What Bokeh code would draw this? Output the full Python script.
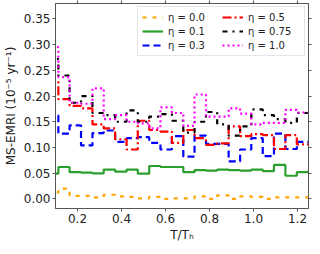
import numpy as np
from bokeh.plotting import figure
from bokeh.models import (Range1d, LinearAxis, FixedTicker, NumeralTickFormatter,
                          CustomJSTickFormatter, Legend, LegendItem)
from bokeh.embed import file_html
from bokeh.resources import INLINE

# bin edges in T/T_h (23 bins)
t_edges = [0.061, 0.113, 0.164, 0.216, 0.268, 0.319, 0.371, 0.423, 0.474, 0.526,
           0.577, 0.629, 0.681, 0.732, 0.784, 0.835, 0.887, 0.939, 0.990, 1.042,
           1.093, 1.145, 1.197, 1.248]

eta_labels = ["η = 0.0", "η = 0.1", "η = 0.3", "η = 0.5", "η = 0.75", "η = 1.0"]

rate_eta_00 = [0.012, 0.020, 0.006, 0.006, 0.003, 0.008, 0.005, 0.004, 0.001, 0.004,
               0.000, 0.001, 0.001, 0.005, 0.000, 0.007, 0.000, 0.005, 0.004, 0.000,
               0.003, 0.003, 0.003]
rate_eta_01 = [0.049, 0.062, 0.052, 0.051, 0.0495, 0.057, 0.053, 0.057, 0.049, 0.064,
               0.062, 0.062, 0.052, 0.056, 0.055, 0.057, 0.056, 0.055, 0.057, 0.054,
               0.066, 0.045, 0.052]
rate_eta_03 = [0.162, 0.127, 0.143, 0.104, 0.128, 0.133, 0.111, 0.118, 0.120, 0.109,
               0.096, 0.122, 0.082, 0.123, 0.107, 0.107, 0.073, 0.096, 0.118, 0.083,
               0.127, 0.097, 0.111]
rate_eta_05 = [0.230, 0.194, 0.181, 0.176, 0.145, 0.137, 0.116, 0.096, 0.152, 0.134,
               0.131, 0.109, 0.134, 0.118, 0.105, 0.108, 0.141, 0.122, 0.126, 0.124,
               0.097, 0.124, 0.106]
rate_eta_075 = [0.272, 0.240, 0.187, 0.200, 0.167, 0.163, 0.150, 0.172, 0.150, 0.160,
                0.165, 0.152, 0.129, 0.150, 0.169, 0.145, 0.123, 0.141, 0.174, 0.163,
                0.155, 0.148, 0.167]
rate_eta_10 = [0.295, 0.237, 0.187, 0.185, 0.215, 0.155, 0.163, 0.150, 0.147, 0.137,
               0.178, 0.167, 0.142, 0.203, 0.160, 0.160, 0.176, 0.166, 0.145, 0.148,
               0.148, 0.173, 0.168]

x_ticks = [0.2, 0.4, 0.6, 0.8, 1.0, 1.2]
y_ticks = [0.0, 0.05, 0.10, 0.15, 0.20, 0.25, 0.30, 0.35]

series = [rate_eta_00, rate_eta_01, rate_eta_03, rate_eta_05, rate_eta_075, rate_eta_10]
colors = ["#FFA500", "#2ca02c", "#0000FF", "#FF0000", "#000000", "#FF00FF"]
dashes = ["4 6", "solid", "7 4", "9 3 2 3", "5 5 2 5", "2 3"]

FRAME = "#555555"
TXT = "#222222"
FONT = "DejaVu Sans"

p = figure(frame_width=253, frame_height=205, output_backend="svg", toolbar_location=None,
           x_range=Range1d(0.1, 1.25), y_range=Range1d(-0.0187, 0.380),
           min_border_left=4, min_border_right=4, min_border_top=3, min_border_bottom=4,
           background_fill_color="white", border_fill_color="white")
p.xgrid.visible = False
p.ygrid.visible = False
p.outline_line_color = FRAME
p.outline_line_width = 1

for ax in p.xaxis + p.yaxis:
    ax.axis_line_color = FRAME
    ax.major_tick_line_color = FRAME
    ax.minor_tick_line_color = None
    ax.major_tick_in = 0
    ax.major_tick_out = 3
    ax.major_label_text_font = FONT
    ax.major_label_text_font_size = "12px"
    ax.major_label_text_color = TXT
    ax.axis_label_text_font = FONT
    ax.axis_label_text_font_size = "12px"
    ax.axis_label_text_font_style = "normal"
    ax.axis_label_text_color = TXT

p.xaxis.ticker = FixedTicker(ticks=x_ticks)
p.xaxis.formatter = NumeralTickFormatter(format="0.0")
p.xaxis.major_label_standoff = 2
p.xaxis.axis_label = "T/Tₕ"
p.xaxis.axis_label_standoff = 2

p.yaxis.ticker = FixedTicker(ticks=y_ticks)
p.yaxis.formatter = NumeralTickFormatter(format="0.00")
p.yaxis.major_label_standoff = 2
p.yaxis.axis_label = "MS-EMRI (10⁻⁵ yr⁻¹)"
p.yaxis.axis_label_standoff = 3

empty = CustomJSTickFormatter(code="return ''")
top = LinearAxis(ticker=FixedTicker(ticks=x_ticks), formatter=empty,
                 axis_line_color=FRAME, major_tick_line_color=FRAME, minor_tick_line_color=None,
                 major_tick_in=0, major_tick_out=3, major_label_standoff=0,
                 major_label_text_font_size="1px")
right = LinearAxis(ticker=FixedTicker(ticks=y_ticks), formatter=empty,
                   axis_line_color=FRAME, major_tick_line_color=FRAME, minor_tick_line_color=None,
                   major_tick_in=0, major_tick_out=3, major_label_standoff=0,
                   major_label_text_font_size="1px")
p.add_layout(top, "above")
p.add_layout(right, "right")

items = []
for vals, lab, col, dash in zip(series, eta_labels, colors, dashes):
    ys = list(vals) + [vals[-1]]
    r = p.step(x=t_edges, y=ys, mode="after", line_color=col, line_width=2.2,
               line_dash=dash)
    items.append(LegendItem(label=lab, renderers=[r]))

# legend is filled column by column: 0.0/0.1/0.3 then 0.5/0.75/1.0
legend = Legend(items=items, location="top_right", ncols=2,
                label_text_font=FONT, label_text_font_size="10px", label_text_color=TXT,
                glyph_width=21, glyph_height=12, label_height=12, label_width=52,
                label_standoff=5, spacing=2, padding=4, margin=3,
                border_line_color="#cccccc", border_line_width=1,
                background_fill_alpha=0.8)
p.add_layout(legend, "center")

open("out.html", "w").write(file_html(p, INLINE))
